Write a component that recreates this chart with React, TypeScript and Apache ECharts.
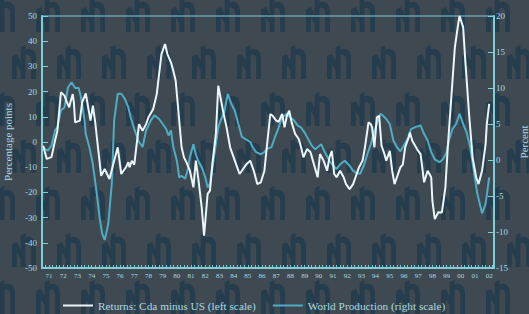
import React, { useEffect, useRef } from "react";
import * as echarts from "echarts";

// Returns: Canada minus US, percentage points (left scale)
const returnsDates = [
  "1971-02","1971-05","1971-09","1971-12","1972-02","1972-05","1972-08","1972-10","1972-12",
  "1973-01","1973-03","1973-04","1973-05","1973-09","1973-11","1974-02","1974-04","1974-06",
  "1974-08","1974-10","1974-12","1975-03","1975-06","1975-10","1976-02","1976-05","1976-08",
  "1976-12","1977-02","1977-03","1977-05","1977-07","1977-11","1978-02","1978-05","1978-07",
  "1978-11","1979-02","1979-04","1979-06","1979-09","1979-11","1980-02","1980-04","1980-06",
  "1980-08","1980-11","1981-01","1981-03","1981-06","1981-09","1981-11","1982-01","1982-04",
  "1982-06","1982-09","1982-11","1983-01","1983-04","1983-06","1983-10","1984-01","1984-04",
  "1984-08","1984-12","1985-03","1985-06","1985-09","1985-12","1986-03","1986-06","1986-09",
  "1986-11","1987-02","1987-04","1987-07","1987-09","1987-12","1988-02","1988-04","1988-06",
  "1988-08","1988-11","1989-02","1989-04","1989-06","1989-09","1989-12","1990-02","1990-06",
  "1990-08","1990-11","1991-02","1991-04","1991-06","1991-08","1991-10","1992-01","1992-04",
  "1992-06","1992-09","1992-12","1993-02","1993-05","1993-08","1993-10","1994-01","1994-03",
  "1994-04","1994-06","1994-08","1994-10","1994-12","1995-02","1995-04","1995-07","1995-09",
  "1995-11","1996-02","1996-04","1996-06","1996-08","1996-11","1996-12","1997-02","1997-06",
  "1997-09","1997-12","1998-03","1998-06","1998-07","1998-09","1998-12","1999-03","1999-06",
  "1999-08","1999-11","2000-02","2000-05","2000-06","2000-09","2000-11","2001-02","2001-05",
  "2001-08","2001-10","2002-01","2002-04","2002-05","2002-07",
];
const returnsValues = [
  -1.5, -6.7, -6, 0.5, 4.5, 19.7, 18.4, 15.8, 13.8,
  15.8, 19, 15.4, 7.8, 8.5, 15.8, 19.3, 13.8, 8.5,
  14.4, 7.8, -0.8, -13.4, -10.7, -14.7, -7.4, -2.1, -12.7,
  -10, -8, -10, -7.5, -9, 7.1, 4.5, 7.1, 9.8,
  13.1, 19, 27, 34.9, 38.9, 34.9, 31.6, 28.3, 24.3,
  13.8, -2.1, -6.1, -8, -11.4, -18, -7.4, -14, -25.9,
  -37.2, -20.6, -19.3, -8.7, 3.2, 22.3, 12.4, 5.8, -2.1,
  -7.4, -12.7, -10.7, -8.7, -7.4, -11.4, -16.7, -16, -11.4,
  -2.1, 11.1, 10.4, 8.5, 8, 11.1, 5.8, 10.4, 12.4,
  7.8, 3.2, 1.2, -2.1, -6.1, -2.8, -4.1, -7.4, -14,
  -4.8, -7.4, -11.4, -6.1, -3.5, -12.7, -14, -11.4, -14,
  -16.7, -18.7, -16.7, -14, -10, -7.4, -2.1, 7.8, 7,
  5.8, -2.1, 9.8, 10.4, -1.5, -4.1, -7.4, -3.5, -11.4,
  -16.7, -12.7, -10, -9, -2.1, 1.9, 3.8, 0.5, -2.8,
  -4.8, -16, -11.4, -14, -23.3, -30.6, -27.9, -28, -18,
  -2.1, 17.7, 37.6, 47.5, 50, 45.5, 31, 11.1, -6.1,
  -14, -16.7, -11.4, -0.8, 7.1, 15.1,
];

// World Production, percent (right scale)
const productionDates = [
  "1971-01","1971-06","1971-09","1971-12","1972-02","1972-05","1972-08","1972-11","1973-02",
  "1973-05","1973-08","1973-10","1974-01","1974-02","1974-05","1974-08","1974-11","1975-02",
  "1975-04","1975-06","1975-09","1975-12","1976-02","1976-05","1976-08","1976-11","1977-02",
  "1977-04","1977-07","1977-11","1978-02","1978-05","1978-09","1978-12","1979-04","1979-07",
  "1979-10","1979-12","1980-02","1980-04","1980-07","1980-09","1980-11","1981-02","1981-04",
  "1981-06","1981-09","1981-11","1982-01","1982-04","1982-07","1982-09","1982-11","1983-02",
  "1983-04","1983-06","1983-08","1983-11","1984-02","1984-05","1984-08","1984-11","1985-02",
  "1985-05","1985-09","1985-11","1986-02","1986-06","1986-09","1986-11","1987-03","1987-06",
  "1987-09","1987-12","1988-04","1988-07","1988-10","1989-01","1989-04","1989-07","1989-10",
  "1990-01","1990-04","1990-09","1990-12","1991-04","1991-07","1991-10","1992-01","1992-05",
  "1992-09","1992-12","1993-03","1993-06","1993-09","1993-12","1994-03","1994-06","1994-08",
  "1994-11","1995-01","1995-04","1995-07","1995-10","1996-01","1996-04","1996-06","1996-10",
  "1997-01","1997-05","1997-09","1997-12","1998-03","1998-06","1998-09","1999-01","1999-04",
  "1999-07","1999-09","1999-12","2000-03","2000-06","2000-09","2000-12","2001-03","2001-06",
  "2001-09","2002-01","2002-04","2002-07",
];
const productionValues = [
  1.8, 1.3, 2, 4.1, 4.5, 6.9, 7.3, 10.1, 10.8,
  10, 10, 8.7, 5.5, 3.6, 1.8, -0.6, -4.3, -8.4,
  -10.3, -11.1, -8.9, -3.3, 5.5, 9.2, 9.2, 8.5, 7.3,
  5.9, 4.3, 2.5, 1.8, 4.1, 5.5, 6.2, 5.7, 5,
  4.3, 3.4, 4.1, 1.8, -0.1, -2.4, -2.2, -2.6, -1.5,
  0.4, 2.2, 0.8, -0.1, -1, -2.4, -3.8, -3.3, -0.1,
  2.2, 4.5, 5.5, 6.6, 9.2, 7.8, 6.85, 5, 3.2,
  2.9, 2.5, 1.8, 1.1, 0.8, 1.1, 1.5, 1.8, 3.2,
  4.5, 5.9, 6.4, 5.9, 5.5, 4.8, 4.5, 3.8, 2.9,
  2, 1.5, 2.2, 1.1, -0.1, -0.8, -1.25, -0.6, -0.1,
  -0.8, -1.5, -1.85, -1.9, -0.8, 0.8, 2.2, 4.1, 5,
  6.4, 6.2, 5.7, 5, 2.7, 1.8, 1.2, 1.8, 2.9,
  4.3, 4.6, 4.8, 3.6, 2.7, 1.1, 0.1, -0.3, 0.1,
  1.1, 2.7, 4.3, 5, 6.4, 5, 3.8, 1.8, -1.5,
  -4.7, -7.4, -6.1, -2.4,
];

const yearTickLabels = [
  "71","72","73","74","75","76","77","78","79","80","81","82","83","84","85","86",
  "87","88","89","90","91","92","93","94","95","96","97","98","99","00","01","02",
];

const seriesNames = ["Returns: Cda minus US (left scale)", "World Production (right scale)"];

const toYear = (s: string) => {
  const [y, m] = s.split("-").map(Number);
  return y + (m - 1) / 12;
};

const LOGO_D =
  "M0,10 L5,8 L5,30 L0,30 Z M0,10 L5,8 L13,21 L13,28 Z M9,2 L14,0 L14,30 L9,30 Z " +
  "M14,4 C20,2 25,5 25,12 L25,30 L20,30 L20,13 C20,9 17,8 14,9 Z";

let registered = false;

export default function App() {
  const ref = useRef<HTMLDivElement>(null);
  useEffect(() => {
    if (!ref.current) return;
    if (!registered) {
      echarts.graphic.registerShape("logo", echarts.graphic.extendPath(LOGO_D, {}) as any);
      registered = true;
    }
    const chart = echarts.init(ref.current, undefined, { renderer: "svg" });

    const axisColor = "#7fcfd6";
    const labelColor = "#a6dbe1";
    const font = "Liberation Serif";

    const logos: any[] = [];
    for (let r = 0; r < 7; r++) {
      for (let k = -1; k < 13; k++) {
        const cx = 3 + 45 * k + (r % 2 === 1 ? 21 : 0);
        const cy = 15 + 47 * r;
        logos.push({
          type: "logo",
          x: cx - 12,
          y: cy - 17,
          scaleX: 0.96,
          scaleY: 1.13,
          silent: true,
          style: { fill: "#1f3a4d", opacity: 0.75 },
        });
      }
    }

    const labelValues = yearTickLabels.map((_, i) => 1971.5 + i);

    chart.setOption({
      animation: false,
      backgroundColor: "#3e4951",
      graphic: [{ type: "group", z: -10, silent: true, children: logos }],
      grid: {
        left: 42,
        right: 35,
        top: 16,
        bottom: 46,
        outerBoundsMode: "none",
        containLabel: false,
        show: true,
        borderColor: axisColor,
        borderWidth: 1,
        backgroundColor: "transparent",
        z: 1,
      },
      legend: {
        left: 58,
        top: 295,
        itemWidth: 30,
        itemHeight: 2,
        itemGap: 17,
        icon: "rect",
        data: seriesNames,
        textStyle: { color: labelColor, fontFamily: font, fontSize: 11.3 },
      },
      xAxis: {
        type: "value",
        min: 1971,
        max: 2002.84,
        interval: 0.25,
        splitLine: { show: false },
        axisLine: { onZero: false, lineStyle: { color: axisColor, width: 2 } },
        axisTick: { inside: true, length: 3, lineStyle: { color: axisColor, width: 1 } },
        axisLabel: {
          customValues: labelValues,
          formatter: (v: number) => yearTickLabels[Math.round(v - 1971.5)] ?? "",
          color: labelColor,
          fontFamily: font,
          fontSize: 7,
          margin: 4,
        },
      },
      yAxis: [
        {
          type: "value",
          position: "left",
          min: -50,
          max: 50,
          interval: 10,
          splitLine: { show: false },
          axisLine: { show: true, lineStyle: { color: axisColor, width: 2 } },
          axisTick: { show: true, inside: true, length: 6, lineStyle: { color: axisColor } },
          axisLabel: { color: labelColor, fontFamily: font, fontSize: 9, margin: 5 },
          name: "Percentage points",
          nameLocation: "middle",
          nameRotate: 90,
          nameGap: 29,
          nameTextStyle: { color: labelColor, fontFamily: font, fontSize: 11 },
        },
        {
          type: "value",
          position: "right",
          min: -15,
          max: 20,
          interval: 5,
          splitLine: { show: false },
          axisLine: { show: true, lineStyle: { color: axisColor, width: 2 } },
          axisTick: { show: true, inside: true, length: 6, lineStyle: { color: axisColor } },
          axisLabel: { color: labelColor, fontFamily: font, fontSize: 9, margin: 2 },
          name: "Percent",
          nameLocation: "middle",
          nameRotate: 90,
          nameGap: 22,
          nameTextStyle: { color: labelColor, fontFamily: font, fontSize: 11 },
        },
      ],
      series: [
        {
          name: seriesNames[1],
          type: "line",
          yAxisIndex: 1,
          symbol: "none",
          color: "#4eadc4",
          lineStyle: { color: "#4eadc4", width: 2 },
          data: productionDates.map((d, i) => [toYear(d), productionValues[i]]),
        },
        {
          name: seriesNames[0],
          type: "line",
          yAxisIndex: 0,
          symbol: "none",
          color: "#eaf7fa",
          lineStyle: { color: "#eaf7fa", width: 2 },
          data: returnsDates.map((d, i) => [toYear(d), returnsValues[i]]),
        },
      ],
    });
    return () => chart.dispose();
  }, []);
  return (
    <div
      ref={ref}
      style={{ position: "absolute", left: 0, top: 0, width: 529, height: 314 }}
    />
  );
}
